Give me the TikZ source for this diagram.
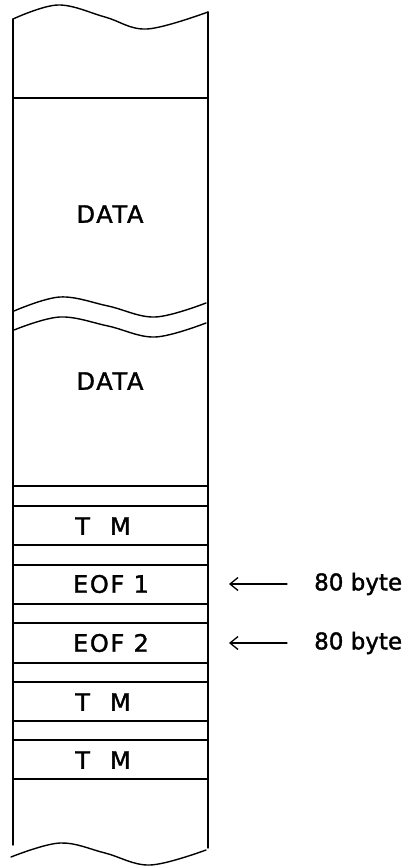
\documentclass[tikz,border=0pt]{standalone}
\usepackage{fontspec}
\setmainfont{DejaVu Sans}
\newfontfamily\boxfont[LetterSpace=7,FakeBold=1.5]{DejaVu Sans}
\newfontfamily\sidefont[FakeBold=1.5]{DejaVu Sans}
\usetikzlibrary{arrows.meta}
\begin{document}
\begin{tikzpicture}[x=1pt,y=-1pt,line cap=round,
  outline/.style={line width=1.4pt},
  sep/.style={line width=1.1pt},
  lbl/.style={font=\boxfont\fontsize{24}{24}\selectfont,inner sep=0pt,anchor=center},
  side/.style={font=\sidefont\fontsize{23}{23}\selectfont,inner sep=0pt,anchor=west},
  arr/.style={line width=1.3pt,-{Straight Barb[length=8pt,width=13pt,line width=1.3pt]}}]
\useasboundingbox[fill=white] (0,0) rectangle (410,867);
% side lines
\draw[outline] (13,19) -- (13,845);
\draw[outline] (208,12) -- (208,848);
% top wave
\draw[outline] plot[smooth,tension=0.6] coordinates {(13,19) (58,5) (105,17) (147,29) (208,12)};
% double wave
\draw[outline] plot[smooth,tension=0.6] coordinates {(14,311) (60,297) (108,306) (155,317) (206,303)};
\draw[outline] plot[smooth,tension=0.6] coordinates {(14,330) (60,317) (108,326) (155,337) (206,323)};
% bottom wave
\draw[outline] plot[smooth,tension=0.6] coordinates {(11,857) (60,843) (105,853) (150,865) (206,850)};
% separator lines
\foreach \yy in {98,486,506,545,565,604,623,663,682,721,740,779}
  \draw[sep] (13,\yy) -- (208,\yy);
% labels
\node[lbl] (data1) at (110,214) {DATA};
\node[lbl] (data2) at (110,381) {DATA};
\node[lbl] (tm1) at (103,526) {T\hspace{20pt}M};
\node[lbl] (eof1) at (111,584) {EOF 1};
\node[lbl] (eof2) at (111,643) {EOF 2};
\node[lbl] (tm2) at (103,702) {T\hspace{20pt}M};
\node[lbl] (tm3) at (103,760) {T\hspace{20pt}M};
\node[side] (b1) at (314,584) {80 byte};
\node[side] (b2) at (314,643) {80 byte};
\coordinate (t1) at (229,584);
\coordinate (t2) at (229,643);
\draw[arr] ([xshift=-27pt]b1.west) -- (t1);
\draw[arr] ([xshift=-27pt]b2.west) -- (t2);
\end{tikzpicture}
\end{document}
